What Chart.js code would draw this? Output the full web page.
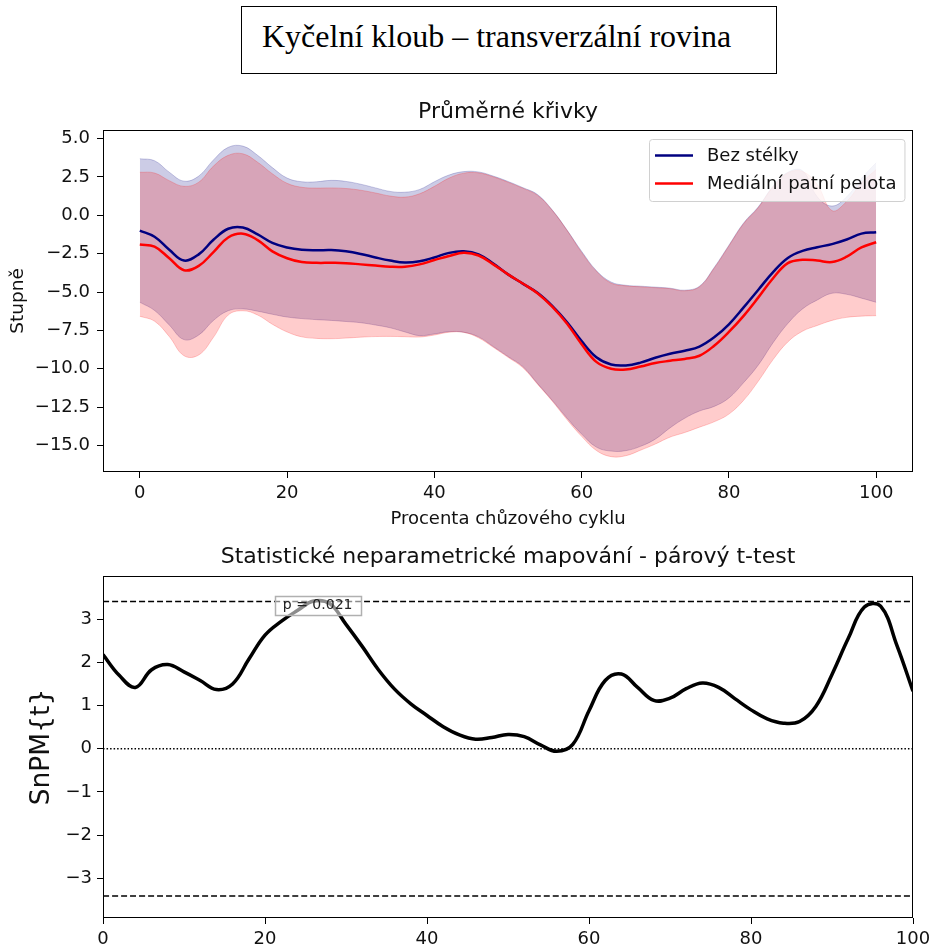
<!DOCTYPE html>
<html>
<head>
<meta charset="utf-8">
<script src="https://cdn.jsdelivr.net/npm/chart.js@4.4.1/dist/chart.umd.min.js"></script>
<style>
  html, body { margin: 0; padding: 0; background: #fff; }
  body { position: relative; width: 932px; height: 949px; overflow: hidden; }
  #nadpis { position: absolute; left: 241px; top: 6px; width: 536px; height: 68px; box-sizing: border-box; border: 1px solid #000; }
  #nadpis span { position: absolute; left: 20px; top: 11px; font: 32px "Liberation Serif", "Times New Roman", serif; color: #000; white-space: nowrap; }
  canvas { position: absolute; left: 0; }
  #grafKrivky { top: 85px; }
  #grafSpm { top: 540px; }
</style>
</head>
<body>
<div id="nadpis"><span>Kyčelní kloub – transverzální rovina</span></div>
<canvas id="grafKrivky" width="932" height="455"></canvas>
<canvas id="grafSpm" width="932" height="409"></canvas>
<script>
// ---- data ----
// procenta cyklu chůze
const cyklus = [0, 2, 4, 6, 8, 10, 12, 14, 16, 18, 20, 22, 24, 26, 28, 30, 32, 34, 36, 38, 40,
  42, 44, 46, 48, 50, 52, 54, 56, 58, 60, 62, 64, 66, 68, 70, 72, 74, 76, 78, 80,
  82, 84, 86, 88, 90, 92, 94, 96, 98, 100];

// Bez stélky – průměr a pásmo ± SD (stupně)
const bezStelkyPrumer = [-1.00, -1.40, -2.25, -2.95, -2.55, -1.60, -0.88, -0.80, -1.25, -1.80,
  -2.10, -2.25, -2.28, -2.27, -2.35, -2.52, -2.75, -2.95, -3.08, -3.00,
  -2.75, -2.45, -2.35, -2.55, -3.15, -3.85, -4.45, -5.05, -5.90, -6.95,
  -8.20, -9.25, -9.72, -9.78, -9.60, -9.28, -9.02, -8.82, -8.55, -7.95,
  -7.10, -6.00, -4.85, -3.70, -2.78, -2.32, -2.08, -1.88, -1.58, -1.20, -1.11];
const bezStelkyHorni = [3.68, 3.55, 2.80, 2.22, 2.55, 3.60, 4.42, 4.50, 3.90, 3.10,
  2.42, 2.18, 2.18, 2.27, 2.20, 2.02, 1.78, 1.55, 1.50, 1.68,
  2.18, 2.62, 2.84, 2.82, 2.55, 2.20, 1.80, 1.35, 0.35, -0.95,
  -2.35, -3.60, -4.35, -4.56, -4.62, -4.68, -4.75, -4.88, -4.62, -3.40,
  -1.95, -0.50, 0.55, 1.90, 2.80, 2.90, 1.20, 0.60, 1.20, 2.40, 3.42];
const bezStelkyDolni = [-5.67, -6.20, -7.15, -8.10, -7.80, -6.85, -6.22, -6.10, -6.25, -6.45,
  -6.63, -6.73, -6.80, -6.85, -6.92, -7.00, -7.15, -7.33, -7.60, -7.84,
  -7.73, -7.58, -7.62, -7.92, -8.55, -9.20, -9.85, -10.95, -12.05, -13.20,
  -14.25, -15.10, -15.36, -15.33, -15.05, -14.58, -13.85, -13.22, -12.75, -12.45,
  -11.90, -10.90, -9.75, -8.30, -7.05, -6.10, -5.52, -5.08, -5.15, -5.40, -5.67];

// Mediální patní pelota – průměr a pásmo ± SD (stupně)
const pelotaPrumer = [-1.91, -2.05, -2.80, -3.58, -3.30, -2.40, -1.45, -1.20, -1.62, -2.35,
  -2.80, -3.05, -3.10, -3.10, -3.12, -3.20, -3.28, -3.35, -3.35, -3.20,
  -2.92, -2.65, -2.45, -2.62, -3.20, -3.85, -4.45, -5.08, -5.95, -7.05,
  -8.40, -9.55, -10.00, -10.05, -9.85, -9.62, -9.48, -9.36, -9.15, -8.50,
  -7.60, -6.55, -5.35, -4.10, -3.12, -2.90, -2.95, -3.05, -2.70, -2.10, -1.76];
const pelotaHorni = [2.80, 2.75, 2.25, 1.88, 2.15, 3.20, 3.90, 4.00, 3.45, 2.70,
  2.08, 1.82, 1.77, 1.78, 1.74, 1.63, 1.45, 1.25, 1.18, 1.40,
  1.88, 2.42, 2.74, 2.76, 2.50, 2.15, 1.76, 1.30, 0.32, -0.98,
  -2.42, -3.65, -4.42, -4.60, -4.66, -4.72, -4.78, -4.92, -4.66, -3.45,
  -2.00, -0.55, 0.50, 1.85, 2.75, 2.85, 2.00, 0.30, 0.90, 2.10, 2.98];
const pelotaDolni = [-6.58, -6.90, -7.90, -9.15, -9.10, -7.95, -6.50, -6.22, -6.50, -7.10,
  -7.60, -7.92, -8.02, -8.04, -8.00, -7.94, -7.90, -7.89, -7.91, -7.93,
  -7.80, -7.62, -7.63, -7.98, -8.60, -9.25, -9.92, -11.00, -12.10, -13.30,
  -14.40, -15.32, -15.72, -15.66, -15.30, -14.90, -14.45, -14.15, -13.80, -13.45,
  -12.95, -12.05, -10.80, -9.40, -8.25, -7.55, -7.18, -6.85, -6.65, -6.57, -6.54];

// SnPM{t} – párový t-test
const snpmT = [2.18, 1.70, 1.42, 1.83, 1.95, 1.78, 1.58, 1.37, 1.50, 2.07,
  2.63, 2.95, 3.20, 3.42, 3.36, 2.88, 2.37, 1.83, 1.38, 1.04,
  0.77, 0.51, 0.32, 0.22, 0.26, 0.33, 0.28, 0.09, -0.06, 0.10,
  0.88, 1.58, 1.73, 1.42, 1.12, 1.17, 1.39, 1.52, 1.42, 1.16,
  0.90, 0.69, 0.59, 0.63, 0.98, 1.72, 2.55, 3.28, 3.30, 2.40, 1.33];
const prahT = 3.41;           // kritický práh t*
const shlukStred = 26.5;      // střed nadprahového shluku
const pHodnota = 'p = 0.021';

// popisky os
const krivkyXTicks = [0, 20, 40, 60, 80, 100];
const krivkyYTicks = [-15, -12.5, -10, -7.5, -5, -2.5, 0, 2.5, 5];
const spmXTicks = [0, 20, 40, 60, 80, 100];
const spmYTicks = [-3, -2, -1, 0, 1, 2, 3];

// ---- pomocné ----
Chart.defaults.font.family = '"DejaVu Sans", sans-serif';
Chart.defaults.color = '#111';

const body = hodnoty => cyklus.map((x, i) => ({ x, y: hodnoty[i] }));
const minus = s => String(s).replace('-', '\u2212');

// rámeček kolem plochy grafu (jako matplotlib spines)
const ramecek = {
  id: 'ramecek',
  afterDatasetsDraw(chart) {
    const { ctx, chartArea: a } = chart;
    ctx.save();
    ctx.strokeStyle = '#000';
    ctx.lineWidth = 1;
    ctx.strokeRect(a.left + 0.5, a.top + 0.5, a.width - 1, a.height - 1);
    ctx.restore();
  }
};

// nadpis vystředěný nad plochou grafu, ne nad celým plátnem
const nadpisGrafu = {
  id: 'nadpisGrafu',
  afterDraw(chart, args, opts) {
    const { ctx, chartArea: a } = chart;
    ctx.save();
    ctx.font = opts.size + 'px "DejaVu Sans"';
    ctx.fillStyle = '#111';
    ctx.textAlign = 'center';
    ctx.textBaseline = 'middle';
    ctx.fillText(opts.text, (a.left + a.right) / 2, a.top - opts.odsazeni);
    ctx.restore();
  }
};

// legenda uvnitř grafu vpravo nahoře
const legendaUvnitr = {
  id: 'legendaUvnitr',
  afterDraw(chart) {
    const { ctx, chartArea: a } = chart;
    const polozky = chart.data.datasets.filter(d => d.vLegende);
    ctx.save();
    ctx.font = '18px "DejaVu Sans"';
    const sirka = Math.max(...polozky.map(d => ctx.measureText(d.label).width));
    const w = 58 + sirka + 8, h = 62;
    const x0 = Math.round(a.right - 9 - w), y0 = a.top + 9;
    ctx.beginPath();
    ctx.roundRect(x0 + 0.5, y0 + 0.5, w, h, 3);
    ctx.fillStyle = 'rgba(255,255,255,0.8)';
    ctx.fill();
    ctx.strokeStyle = '#d0d0d0';
    ctx.lineWidth = 1;
    ctx.stroke();
    polozky.forEach((d, i) => {
      const y = y0 + 16.5 + i * 28;
      ctx.strokeStyle = d.borderColor;
      ctx.lineWidth = 2.5;
      ctx.beginPath();
      ctx.moveTo(x0 + 6, y);
      ctx.lineTo(x0 + 44, y);
      ctx.stroke();
      ctx.fillStyle = '#111';
      ctx.textBaseline = 'middle';
      ctx.fillText(d.label, x0 + 58, y + 1);
    });
    ctx.restore();
  }
};

// popisek p-hodnoty nadprahového shluku
const popisekP = {
  id: 'popisekP',
  afterDatasetsDraw(chart) {
    const { ctx, scales: { x, y } } = chart;
    const cx = x.getPixelForValue(shlukStred);
    const cy = y.getPixelForValue(prahT) + 4;
    ctx.save();
    ctx.font = '14px "DejaVu Sans"';
    const w = Math.round(ctx.measureText(pHodnota).width + 16), h = 19;
    const bx = Math.round(cx - w / 2) + 0.5, by = Math.round(cy - h / 2) + 0.5;
    ctx.fillStyle = 'rgba(255,255,255,0.55)';
    ctx.fillRect(bx, by, w, h);
    ctx.strokeStyle = '#b0b0b0';
    ctx.lineWidth = 1.5;
    ctx.strokeRect(bx, by, w, h);
    ctx.fillStyle = '#222';
    ctx.textAlign = 'center';
    ctx.textBaseline = 'middle';
    ctx.fillText(pHodnota, cx, cy);
    ctx.restore();
  }
};

const osaTicky = { drawOnChartArea: false, drawTicks: true, tickLength: 6, color: '#000', lineWidth: 1 };

// scale si jinak rezervuje místo pro krajní popisky a zmenší plochu grafu
const bezOkraju = s => { s.paddingLeft = s.paddingRight = s.paddingTop = s.paddingBottom = 0; };

// ==============================
// 1. PRŮMĚRNÉ KŘIVKY
// ==============================
new Chart(document.getElementById('grafKrivky'), {
  type: 'line',
  data: {
    datasets: [
      {
        label: 'Bez stélky', vLegende: true, data: body(bezStelkyPrumer),
        borderColor: '#000080', borderWidth: 2.5, order: 1
      },
      {
        label: 'Mediální patní pelota', vLegende: true, data: body(pelotaPrumer),
        borderColor: '#ff0000', borderWidth: 2.5, order: 0
      },
      {
        label: 'Bez stélky +SD', data: body(bezStelkyHorni), fill: '+1',
        borderColor: 'rgba(0,0,128,0.2)', backgroundColor: 'rgba(0,0,128,0.2)', borderWidth: 1, order: 4
      },
      {
        label: 'Bez stélky -SD', data: body(bezStelkyDolni), fill: false,
        borderColor: 'rgba(0,0,128,0.2)', borderWidth: 1, order: 4
      },
      {
        label: 'Pelota +SD', data: body(pelotaHorni), fill: '+1',
        borderColor: 'rgba(255,0,0,0.2)', backgroundColor: 'rgba(255,0,0,0.2)', borderWidth: 1, order: 3
      },
      {
        label: 'Pelota -SD', data: body(pelotaDolni), fill: false,
        borderColor: 'rgba(255,0,0,0.2)', borderWidth: 1, order: 3
      }
    ]
  },
  options: {
    responsive: false,
    devicePixelRatio: 1,
    animation: false,
    elements: { point: { radius: 0 }, line: { tension: 0.4 } },
    layout: { autoPadding: false, padding: { top: 45, right: 19, bottom: 0, left: 0 } },
    plugins: {
      legend: { display: false },
      tooltip: { enabled: false },
      nadpisGrafu: { text: 'Průměrné křivky', size: 22, odsazeni: 18 }
    },
    scales: {
      x: {
        type: 'linear', min: -5, max: 105,
        grid: osaTicky, border: { display: false },
        ticks: { font: { size: 18 }, padding: 5, maxRotation: 0, autoSkip: false, callback: v => minus(v) },
        title: { display: true, text: 'Procenta chůzového cyklu', font: { size: 18 }, padding: { top: 0, bottom: 10 } },
        afterBuildTicks: s => { s.ticks = krivkyXTicks.map(v => ({ value: v })); },
        afterFit: s => { s.height = 68; bezOkraju(s); }
      },
      y: {
        type: 'linear', min: -16.72, max: 5.55,
        grid: osaTicky, border: { display: false },
        ticks: { font: { size: 18 }, padding: 7, autoSkip: false, callback: v => minus(v.toFixed(1)) },
        title: { display: true, text: 'Stupně', font: { size: 18.5 }, padding: { top: 7, bottom: 0 } },
        afterBuildTicks: s => { s.ticks = krivkyYTicks.map(v => ({ value: v })); },
        afterFit: s => { s.width = 103; bezOkraju(s); }
      }
    }
  },
  plugins: [ramecek, legendaUvnitr, nadpisGrafu]
});

// ==============================
// 2. SnPM – PÁROVÝ T-TEST
// ==============================
new Chart(document.getElementById('grafSpm'), {
  type: 'line',
  data: {
    datasets: [
      {
        label: 'SnPM{t}', data: body(snpmT),
        borderColor: '#000', borderWidth: 3.5, order: 0
      },
      {
        label: 't* horní', data: [{ x: 0, y: prahT }, { x: 100, y: prahT }],
        borderColor: '#000', borderWidth: 1.5, borderDash: [6, 3], order: 1
      },
      {
        label: 't* dolní', data: [{ x: 0, y: -prahT }, { x: 100, y: -prahT }],
        borderColor: '#000', borderWidth: 1.5, borderDash: [6, 3], order: 1
      },
      {
        label: 'nula', data: [{ x: 0, y: 0 }, { x: 100, y: 0 }],
        borderColor: '#000', borderWidth: 1.3, borderDash: [1.5, 2], order: 1
      }
    ]
  },
  options: {
    responsive: false,
    devicePixelRatio: 1,
    animation: false,
    elements: { point: { radius: 0 }, line: { tension: 0.4 } },
    layout: { autoPadding: false, padding: { top: 36, right: 19, bottom: 0, left: 0 } },
    plugins: {
      legend: { display: false },
      tooltip: { enabled: false },
      nadpisGrafu: { text: 'Statistické neparametrické mapování - párový t-test', size: 22, odsazeni: 18.5 }
    },
    scales: {
      x: {
        type: 'linear', min: 0, max: 100,
        grid: osaTicky, border: { display: false },
        ticks: { font: { size: 18 }, padding: 5, maxRotation: 0, autoSkip: false },
        afterBuildTicks: s => { s.ticks = spmXTicks.map(v => ({ value: v })); },
        afterFit: s => { s.height = 31; bezOkraju(s); }
      },
      y: {
        type: 'linear', min: -3.92, max: 4.0,
        grid: osaTicky, border: { display: false },
        ticks: { font: { size: 18 }, padding: 5, autoSkip: false, callback: v => minus(v) },
        title: { display: true, text: 'SnPM{t}', font: { size: 26.5 }, padding: { top: 26, bottom: 0 } },
        afterBuildTicks: s => { s.ticks = spmYTicks.map(v => ({ value: v })); },
        afterFit: s => { s.width = 103; bezOkraju(s); }
      }
    }
  },
  plugins: [ramecek, popisekP, nadpisGrafu]
});
</script>
</body>
</html>
